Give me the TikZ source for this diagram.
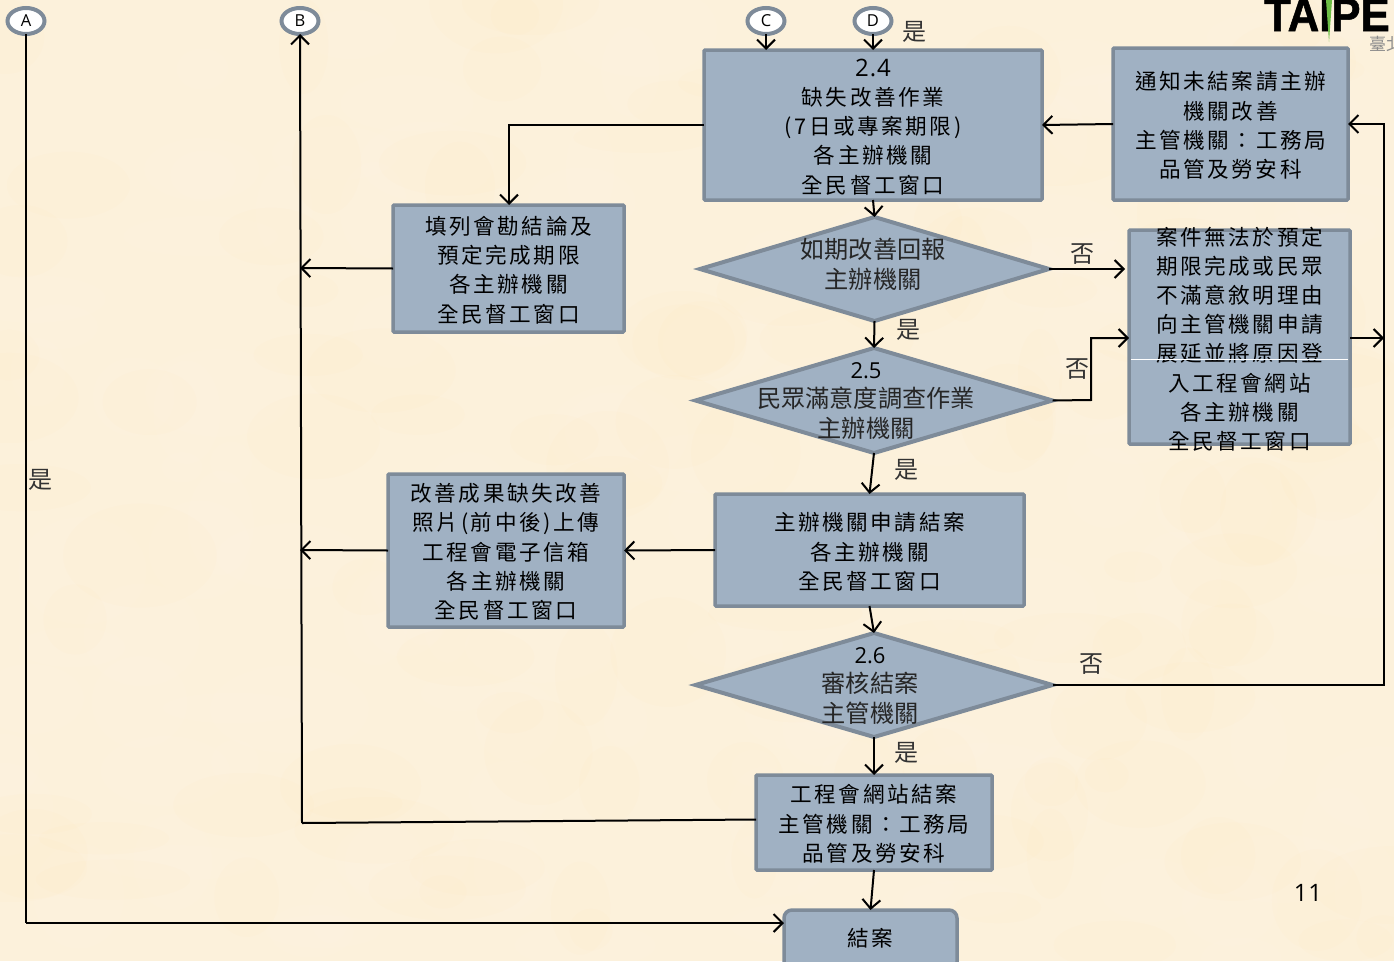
\documentclass[tikz,border=0pt]{standalone}
\usepackage{fontspec}
\usetikzlibrary{shapes.geometric,arrows.meta,calc}
\setmainfont{Open Sans}
\newfontfamily\cjk{Noto Sans CJK TC}
\newfontfamily\cjkwide[LetterSpace=12]{Noto Sans CJK TC}
\newfontfamily\latwide[LetterSpace=4]{Open Sans}
\newfontfamily\logofont[FakeBold=1.2]{Liberation Sans}
\definecolor{bgc}{HTML}{FCF1DB}
\definecolor{boxfill}{HTML}{A0B1C3}
\definecolor{boxline}{HTML}{7E8B99}
\definecolor{logogreen}{HTML}{6DBE45}
\tikzset{
  x=1pt,y=-1pt,
  flowbox/.style={draw=boxline,fill=boxfill,line width=3.5pt,rectangle,inner sep=0pt,outer sep=0pt,rounded corners=1pt},
  flowdia/.style={draw=boxline,fill=boxfill,line width=4pt,diamond,inner sep=0pt,outer sep=0pt,aspect=3.4},
  boxtext/.style={align=center,inner sep=0pt,text=black,font=\fontsize{21.6}{29.2}\selectfont\cjkwide},
  diatext/.style={align=center,inner sep=0pt,text=black!85,font=\fontsize{24.2}{29.8}\selectfont\cjk},
  conn/.style={draw=black,line width=2pt},
  arr/.style={conn,-{Straight Barb[length=9pt,width=18pt,line width=2pt]}},
  yesno/.style={inner sep=0pt,text=black!80,font=\fontsize{24}{24}\selectfont\cjk},
  tag/.style={draw=boxline,fill=white,line width=4pt,ellipse,minimum width=37pt,minimum height=26pt,inner sep=0pt,outer sep=0pt,font=\fontsize{16.5}{16.5}\selectfont},
}
\begin{document}
\begin{tikzpicture}
\useasboundingbox (0,0) rectangle (1394,961);
\clip (0,0) rectangle (1394,961);
\fill[bgc] (0,0) rectangle (1394,961);
% parchment mottling
\pgfmathsetseed{4711}
\foreach \i in {1,...,260}{
  \pgfmathsetmacro{\mx}{rnd*1394}
  \pgfmathsetmacro{\my}{rnd*961}
  \pgfmathsetmacro{\mr}{20+rnd*60}
  \pgfmathsetmacro{\ms}{15+rnd*40}
  \pgfmathparse{rnd>0.5?1:0}
  \ifnum\pgfmathresult>0
    \fill[white,opacity=0.035] (\mx,\my) ellipse [x radius=\mr,y radius=\ms];
  \else
    \fill[orange!45!yellow,opacity=0.012] (\mx,\my) ellipse [x radius=\mr,y radius=\ms];
  \fi
}
% logo
\node[anchor=base west,inner sep=0pt,transform shape,xscale=0.93,font=\fontsize{47}{47}\selectfont\logofont\bfseries] (logo) at (1264,31) {TAIPE};
\fill[logogreen] (1326,0) -- (1332,0) -- (1329,42) -- cycle;
\node[anchor=west,inner sep=0pt,text=black!45,font=\fontsize{17}{17}\selectfont\cjk] (logoc) at (1369,44) {臺北};
% tags
\node[tag] (A) at (26,21) {A};
\node[tag] (B) at (300,21) {B};
\node[tag] (C) at (766,21) {C};
\node[tag] (D) at (873,21) {D};
% boxes
\node[flowbox,minimum width=338pt,minimum height=150pt] (b24) at (873,125) {};
\node[boxtext] (t24) at (873,127) {{\fontsize{24}{24}\selectfont\latwide 2.4}\\缺失改善作業\\(7日或專案期限)\\各主辦機關\\全民督工窗口};
\node[flowbox,minimum width=235pt,minimum height=152pt] (notify) at (1230.5,124) {};
\node[boxtext] (tnotify) at (1230.5,125.5) {通知未結案請主辦\\機關改善\\主管機關：工務局\\品管及勞安科};
\node[flowbox,minimum width=231pt,minimum height=127pt] (fill) at (508.5,268.5) {};
\node[boxtext] (tfill) at (508.5,270) {填列會勘結論及\\預定完成期限\\各主辦機關\\全民督工窗口};
\node[flowbox,minimum width=221pt,minimum height=214pt] (late) at (1239.5,337) {};
\node[boxtext] (tlate) at (1239.5,339) {案件無法於預定\\期限完成或民眾\\不滿意敘明理由\\向主管機關申請\\展延並將原因登\\入工程會網站\\各主辦機關\\全民督工窗口};
\coordinate (wl) at (1131,359.5);
\draw[white,line width=1pt] (wl) -- ++(217,0);
\node[flowbox,minimum width=309pt,minimum height=112pt] (apply) at (869.5,550) {};
\node[boxtext] (tapply) at (869.5,552) {主辦機關申請結案\\各主辦機關\\全民督工窗口};
\node[flowbox,minimum width=236pt,minimum height=153pt] (upload) at (506,550.5) {};
\node[boxtext] (tupload) at (506,552) {改善成果缺失改善\\照片(前中後)上傳\\工程會電子信箱\\各主辦機關\\全民督工窗口};
\node[flowbox,minimum width=236pt,minimum height=95pt] (close) at (874,822.5) {};
\node[boxtext] (tclose) at (874,824) {工程會網站結案\\主管機關：工務局\\品管及勞安科};
\node[flowbox,rounded corners=8pt,minimum width=173pt,minimum height=60pt] (endb) at (870.5,940) {};
\node[boxtext] (tend) at (870.5,938) {結案};
% diamonds
\node[flowdia,minimum width=349pt,minimum height=104pt] (d1) at (874.5,269) {};
\node[diatext] (td1) at (873,264.5) {如期改善回報\\主辦機關};
\node[flowdia,minimum width=357pt,minimum height=105pt] (d2) at (874,400.5) {};
\node[diatext] (td2) at (866,401) {{\fontsize{22}{22}\selectfont\rmfamily\color{black}2.5}\\民眾滿意度調查作業\\主辦機關};
\node[flowdia,minimum width=357pt,minimum height=104pt] (d3) at (874,685) {};
\node[diatext] (td3) at (870,686) {{\fontsize{22}{22}\selectfont\rmfamily\color{black}2.6}\\審核結案\\主管機關};
% connectors
\coordinate (hubT) at (1384,124);
\coordinate (hubB) at (1384,685);
\coordinate (hubM) at (1384,338);
\coordinate (tr) at (1091,400);
\coordinate (trtop) at (1091,338);
\coordinate (elb) at (509,125);
\coordinate (acorner) at (26,923);
\coordinate (bjoin) at (302,823);
\coordinate (fillj) at (300,268);
\coordinate (upj) at (300,550);
\draw[conn] (A.south) -- (acorner);
\draw[arr] (acorner) -- (784,923);
\draw[arr] (bjoin) -- (B.south);
\draw[conn] ($(close.west)+(0,-3)$) -- (bjoin);
\draw[arr] (fill.west) -- (fillj);
\draw[arr] (upload.west) -- (upj);
\draw[arr] (apply.west) -- (upload.east);
\draw[arr] (b24.west) -- (elb) -- (elb |- fill.north);
\draw[arr] (notify.west) -- (b24.east);
\draw[arr] (d3.east) -- (hubB) -- (hubT) -- (notify.east);
\draw[arr] (late.east |- hubM) -- (hubM);
\draw[arr] (d1.east) -- (1125,269);
\draw[arr] (d2.east) -- (tr) -- (trtop) -- (late.west |- trtop);
\draw[arr] (C.south) -- (C.south |- b24.north);
\draw[arr] (D.south) -- (D.south |- b24.north);
\draw[arr] (b24.south) -- (d1.north);
\draw[arr] (d1.south) -- (d2.north);
\draw[arr] (d2.south) -- (apply.north);
\draw[arr] (apply.south) -- (d3.north);
\draw[arr] (d3.south) -- (close.north);
\draw[arr] (close.south) -- (endb.north);
% labels
\node[yesno] (y1) at (914,32) {是};
\node[yesno] (y2) at (908,330) {是};
\node[yesno] (y3) at (906,470) {是};
\node[yesno] (y4) at (906,753) {是};
\node[yesno] (y5) at (40,480) {是};
\node[yesno] (n1) at (1082,254) {否};
\node[yesno] (n2) at (1077,369) {否};
\node[yesno] (n3) at (1091,664) {否};
\node[inner sep=0pt,font=\fontsize{24}{24}\selectfont\latwide] (pg) at (1308,893) {11};
\end{tikzpicture}
\end{document}
